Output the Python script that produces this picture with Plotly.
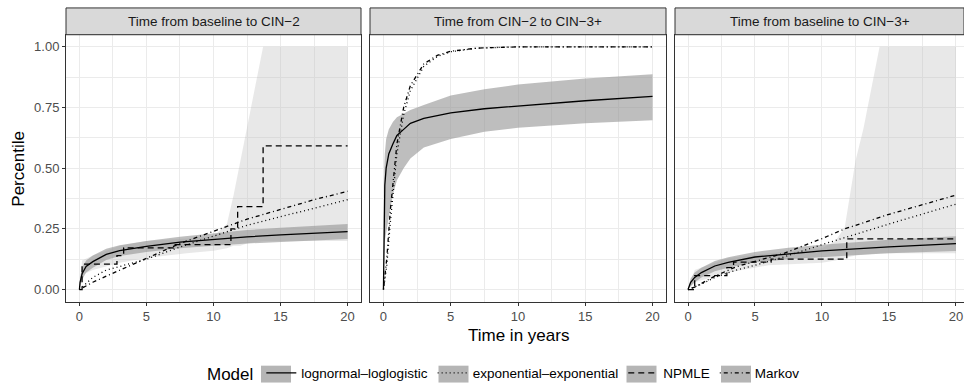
import plotly.graph_objects as go

# ---------------- data ----------------
panel_titles = ["Time from baseline to CIN\u22122", "Time from CIN\u22122 to CIN\u22123+", "Time from baseline to CIN\u22123+"]
model_names = ["lognormal\u2013loglogistic", "exponential\u2013exponential", "NPMLE", "Markov"]
x_ticks = [0, 5, 10, 15, 20]
y_ticks = [0.0, 0.25, 0.5, 0.75, 1.0]
y_tick_text = ["0.00", "0.25", "0.50", "0.75", "1.00"]

# Panel 1: baseline -> CIN-2
p1_ll_t = [0, 0.05, 0.2, 0.5, 1, 2, 3, 5, 7.5, 10, 12.5, 15, 17.5, 20]
p1_ll = [0, 0.03, 0.065, 0.095, 0.115, 0.145, 0.16, 0.178, 0.195, 0.207, 0.217, 0.225, 0.232, 0.239]
p1_ll_lo = [0, 0.01, 0.04, 0.07, 0.09, 0.122, 0.138, 0.155, 0.17, 0.18, 0.19, 0.196, 0.202, 0.208]
p1_ll_hi = [0, 0.05, 0.09, 0.12, 0.14, 0.168, 0.182, 0.2, 0.218, 0.233, 0.245, 0.255, 0.263, 0.27]
p1_ee_t = [0, 1, 2, 5, 7.5, 10, 12.5, 15, 17.5, 20]
p1_ee = [0, 0.05, 0.08, 0.125, 0.175, 0.22, 0.265, 0.3, 0.335, 0.37]
p1_mk = [0, 0.03, 0.055, 0.13, 0.19, 0.24, 0.29, 0.33, 0.37, 0.405]
p1_np_t = [0, 0.2, 2.8, 3.3, 7.0, 11.3, 11.8, 13.7, 20]
p1_np = [0, 0.105, 0.14, 0.172, 0.185, 0.25, 0.342, 0.592, 0.592]
p1_ci_t = [0, 0.2, 1, 3, 5, 8, 10, 11, 11.5, 12, 12.5, 13.7, 20]
p1_ci_lo = [0, 0.06, 0.08, 0.11, 0.13, 0.15, 0.16, 0.17, 0.18, 0.18, 0.19, 0.2, 0.2]
p1_ci_hi = [0, 0.12, 0.14, 0.18, 0.2, 0.21, 0.22, 0.27, 0.39, 0.53, 0.665, 1.0, 1.0]

# Panel 2: CIN-2 -> CIN-3+
p2_ll_t = [0, 0.01, 0.03, 0.06, 0.1, 0.2, 0.4, 0.7, 1, 1.5, 2, 3, 5, 7.5, 10, 15, 20]
p2_ll = [0, 0.08, 0.25, 0.36, 0.43, 0.5, 0.56, 0.6, 0.635, 0.66, 0.685, 0.705, 0.728, 0.745, 0.757, 0.778, 0.796]
p2_ll_lo = [0, 0.02, 0.08, 0.15, 0.2, 0.24, 0.3, 0.39, 0.45, 0.5, 0.54, 0.585, 0.62, 0.65, 0.667, 0.685, 0.698]
p2_ll_hi = [0, 0.15, 0.38, 0.5, 0.56, 0.62, 0.66, 0.69, 0.71, 0.725, 0.74, 0.76, 0.8, 0.825, 0.845, 0.87, 0.887]
p2_ee_t = [0, 0.25, 0.5, 0.75, 1, 1.5, 2, 3, 4, 5, 7, 10, 15, 20]
p2_ee = [0, 0.1, 0.27, 0.42, 0.56, 0.72, 0.82, 0.92, 0.96, 0.98, 0.995, 1, 1, 1]
p2_mk = [0, 0.13, 0.32, 0.47, 0.6, 0.75, 0.84, 0.93, 0.965, 0.982, 0.995, 1, 1, 1]

# Panel 3: baseline -> CIN-3+
p3_ll_t = [0, 0.2, 0.5, 1, 2, 3, 5, 7.5, 10, 15, 20]
p3_ll = [0, 0.03, 0.05, 0.07, 0.097, 0.112, 0.134, 0.148, 0.159, 0.176, 0.189]
p3_ll_lo = [0, 0.015, 0.03, 0.05, 0.075, 0.09, 0.112, 0.125, 0.135, 0.15, 0.159]
p3_ll_hi = [0, 0.045, 0.07, 0.09, 0.118, 0.133, 0.155, 0.172, 0.185, 0.205, 0.22]
p3_ee_t = [0, 0.5, 1, 2, 3.6, 5, 7.2, 10, 11.7, 15, 20]
p3_ee = [0, 0.01, 0.022, 0.05, 0.08, 0.1, 0.135, 0.185, 0.215, 0.27, 0.352]
p3_mk = [0, 0.01, 0.025, 0.055, 0.094, 0.115, 0.15, 0.21, 0.25, 0.31, 0.389]
p3_np_t = [0, 0.5, 2.9, 3.4, 6.2, 11.85, 20]
p3_np = [0, 0.057, 0.09, 0.113, 0.125, 0.209, 0.209]
p3_ci_t = [0, 0.5, 3, 6, 10, 11, 11.7, 12.5, 13.1, 14.3, 20]
p3_ci_lo = [0, 0.03, 0.07, 0.1, 0.11, 0.12, 0.13, 0.14, 0.145, 0.15, 0.15]
p3_ci_hi = [0, 0.08, 0.13, 0.15, 0.17, 0.2, 0.257, 0.53, 0.665, 1.0, 1.0]

# ---------------- styling ----------------
FONT = "Liberation Sans"
LW = 1.3
DASH = {"solid": "solid", "dotted": "1px,3px", "dashed": "6px,4px", "dotdash": "1px,3px,4px,3px"}
LIGHT = "rgba(190,190,190,0.35)"
DARK = "rgba(150,150,150,0.62)"

fig = go.Figure()


def ribbon(t, lo, hi, color, ax):
    fig.add_trace(go.Scatter(x=list(t) + list(t)[::-1], y=list(hi) + list(lo)[::-1],
                             fill="toself", fillcolor=color, line=dict(width=0),
                             mode="lines", showlegend=False, hoverinfo="skip",
                             xaxis="x" + ax, yaxis="y" + ax))


def line(t, v, dash, name, ax, show, shape="linear"):
    fig.add_trace(go.Scatter(x=t, y=v, mode="lines", name=name, legendgroup=name,
                             showlegend=show, line=dict(color="black", width=LW, dash=dash, shape=shape),
                             xaxis="x" + ax, yaxis="y" + ax))


# panel 1
ribbon(p1_ci_t, p1_ci_lo, p1_ci_hi, LIGHT, "")
ribbon(p1_ll_t, p1_ll_lo, p1_ll_hi, DARK, "")
line(p1_ll_t, p1_ll, DASH["solid"], model_names[0], "", True)
line(p1_ee_t, p1_ee, DASH["dotted"], model_names[1], "", True)
line(p1_np_t, p1_np, DASH["dashed"], model_names[2], "", True, "hv")
line(p1_ee_t, p1_mk, DASH["dotdash"], model_names[3], "", True)
# panel 2
ribbon(p2_ll_t, p2_ll_lo, p2_ll_hi, DARK, "2")
line(p2_ll_t, p2_ll, DASH["solid"], model_names[0], "2", False)
line(p2_ee_t, p2_ee, DASH["dotted"], model_names[1], "2", False)
line(p2_ee_t, p2_mk, DASH["dotdash"], model_names[3], "2", False)
# panel 3
ribbon(p3_ci_t, p3_ci_lo, p3_ci_hi, LIGHT, "3")
ribbon(p3_ll_t, p3_ll_lo, p3_ll_hi, DARK, "3")
line(p3_ll_t, p3_ll, DASH["solid"], model_names[0], "3", False)
line(p3_ee_t, p3_ee, DASH["dotted"], model_names[1], "3", False)
line(p3_np_t, p3_np, DASH["dashed"], model_names[2], "3", False, "hv")
line(p3_ee_t, p3_mk, DASH["dotdash"], model_names[3], "3", False)

W, H = 964, 391
top, bot = 35, 304
strip_top = 8
panels_px = [(66, 361), (370, 666), (675, 964)]
ydom = [1 - bot / H, 1 - top / H]
xranges = [[-1, 21], [-1, 21], [-0.97, 20.6]]

grid = "#EBEBEB"
axis_common = dict(showline=True, linecolor="#333333", linewidth=1, mirror=True,
                   showgrid=True, gridcolor=grid, gridwidth=1, zeroline=False,
                   ticks="outside", ticklen=3, tickcolor="#333333", tickwidth=1,
                   tickfont=dict(family=FONT, size=13, color="#4D4D4D"))

layout = dict(width=W, height=H, margin=dict(l=0, r=0, t=0, b=0),
              paper_bgcolor="white", plot_bgcolor="white",
              font=dict(family=FONT, color="black"))
shapes = []
annotations = []
for i, (x0, x1) in enumerate(panels_px):
    sfx = "" if i == 0 else str(i + 1)
    layout["xaxis" + sfx] = dict(axis_common, domain=[x0 / W, x1 / W], range=xranges[i],
                                 tickvals=x_ticks, anchor="y" + sfx,
                                 minor=dict(dtick=2.5, tick0=0, showgrid=True, gridcolor=grid, gridwidth=0.5, ticks=""))
    ya = dict(axis_common, domain=ydom, range=[-0.05, 1.05], anchor="x" + sfx,
              tickvals=y_ticks, ticktext=y_tick_text,
              minor=dict(dtick=0.125, tick0=0, showgrid=True, gridcolor=grid, gridwidth=0.5, ticks=""))
    if i > 0:
        ya.update(showticklabels=False, ticks="")
    layout["yaxis" + sfx] = ya
    shapes.append(dict(type="rect", xref="paper", yref="paper", x0=x0 / W, x1=x1 / W,
                       y0=1 - top / H, y1=1 - strip_top / H, fillcolor="#D9D9D9",
                       line=dict(color="#333333", width=1), layer="above"))
    annotations.append(dict(text=panel_titles[i], xref="paper", yref="paper",
                            x=(x0 + x1) / 2 / W, y=1 - (strip_top + top) / 2 / H,
                            showarrow=False, xanchor="center", yanchor="middle",
                            font=dict(family=FONT, size=13.5, color="#1A1A1A")))

# grey key backgrounds behind the legend symbols (legend decoration)
legend_y = 377
for cx in [276, 453.5, 641.5, 736]:
    shapes.append(dict(type="rect", xref="paper", yref="paper",
                       x0=(cx - 15) / W, x1=(cx + 15) / W,
                       y0=1 - (legend_y + 8.5) / H, y1=1 - (legend_y - 8.5) / H,
                       fillcolor="#B5B5B5", line=dict(width=0), layer="above"))

annotations.append(dict(text="Time in years", xref="paper", yref="paper", x=518 / W, y=1 - 338 / H,
                        showarrow=False, xanchor="center", yanchor="middle",
                        font=dict(family=FONT, size=17, color="black")))
annotations.append(dict(text="Percentile", xref="paper", yref="paper", x=19 / W, y=1 - 170 / H,
                        showarrow=False, textangle=-90, xanchor="center", yanchor="middle",
                        font=dict(family=FONT, size=17, color="black")))

layout["shapes"] = shapes
layout["annotations"] = annotations
layout["legend"] = dict(orientation="h", x=505 / W, xanchor="center", y=1 - legend_y / H, yanchor="middle",
                        title=dict(text="Model", side="left", font=dict(family=FONT, size=17)),
                        font=dict(family=FONT, size=13.5), itemwidth=30, bgcolor="rgba(0,0,0,0)")
fig.update_layout(**layout)

fig.write_html("out.html")
